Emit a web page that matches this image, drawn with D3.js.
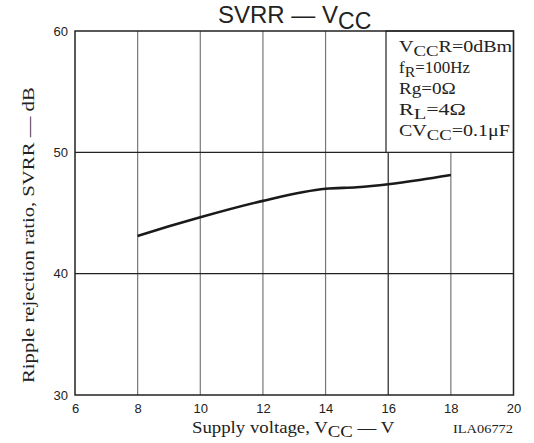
<!DOCTYPE html>
<html><head><meta charset="utf-8">
<script src="https://cdn.jsdelivr.net/npm/d3@7/dist/d3.min.js"></script>
<style>body{margin:0;background:#fff}svg{display:block}</style>
</head><body>
<svg id="c" width="534" height="443"></svg>
<script>
const voltage = [8, 9, 10, 12, 14, 15, 16, 17, 18];
const svrr = [43.1, 43.9, 44.65, 46.0, 47.0, 47.12, 47.37, 47.72, 48.13];
const xTicks = [6, 8, 10, 12, 14, 16, 18, 20];
const yTicks = [30, 40, 50, 60];
const legendLines = [
  [["V",""],["CC","sub"],["R=0dBm",""]],
  [["f",""],["R","sub"],["=100Hz",""]],
  [["Rg=0Ω",""]],
  [["R",""],["L","sub"],["=4Ω",""]],
  [["CV",""],["CC","sub"],["=0.1μF",""]]
];
const legendWidths = [114, 71, 57, 67, 111];

const svg = d3.select("#c");
const x = d3.scaleLinear().domain([6, 20]).range([75, 513.5]);
const y = d3.scaleLinear().domain([30, 60]).range([395, 31]);
const sans = "'Liberation Sans', Arial, sans-serif";
const serif = "'Liberation Serif', 'Times New Roman', serif";

// stretch a text horizontally to a target width, anchored at (x0, y0)
function stretch(t, x0, y0, w, rot) {
  const bw = t.node().getBBox().width;
  const k = w / bw;
  t.attr("transform", `translate(${x0},${y0})${rot ? " rotate(-90)" : ""} scale(${k},1)`);
}

// vertical grid
svg.append("g").selectAll("line").data(xTicks.slice(1, -1)).join("line")
  .attr("x1", d => x(d)).attr("x2", d => x(d)).attr("y1", y(60)).attr("y2", y(30))
  .attr("stroke", d => d === 16 ? "#222" : "#777").attr("stroke-width", 1.2);
// horizontal grid
svg.append("g").selectAll("line").data(yTicks.slice(1, -1)).join("line")
  .attr("x1", x(6)).attr("x2", x(20)).attr("y1", d => y(d)).attr("y2", d => y(d))
  .attr("stroke", "#222").attr("stroke-width", 1.2);

// legend box
const lg = svg.append("g");
lg.append("rect").attr("x", 386).attr("y", y(60)).attr("width", x(20) - 386).attr("height", y(50) - y(60))
  .attr("fill", "#fff").attr("stroke", "#222").attr("stroke-width", 1.2);
legendLines.forEach((parts, i) => {
  const t = lg.append("text").attr("x", 0).attr("y", 0)
    .attr("font-family", serif).attr("font-size", 16).attr("fill", "#222");
  let off = 0;
  parts.forEach(([s, k]) => {
    const ts = t.append("tspan").text(s);
    if (k === "sub") { ts.attr("font-size", 15).attr("dy", 4 - off); off = 4; }
    else { ts.attr("dy", -off); off = 0; }
  });
  stretch(t, 399, 52 + i * 21, legendWidths[i]);
});

// frame
svg.append("rect").attr("x", x(6)).attr("y", y(60)).attr("width", x(20) - x(6)).attr("height", y(30) - y(60))
  .attr("fill", "none").attr("stroke", "#222").attr("stroke-width", 1.5);

// curve
const line = d3.line().x((d, i) => x(voltage[i])).y(d => y(d)).curve(d3.curveMonotoneX);
svg.append("path").attr("d", line(svrr)).attr("fill", "none").attr("stroke", "#1a1a1a").attr("stroke-width", 2.6);

// axes (tick labels only)
const xAxis = d3.axisBottom(x).tickValues(xTicks).tickSize(0).tickPadding(9);
const gx = svg.append("g").attr("transform", `translate(0,${y(30)})`).call(xAxis);
gx.select(".domain").remove();
gx.selectAll("text").attr("font-family", sans).attr("font-size", 13).attr("fill", "#222");

const yAxis = d3.axisLeft(y).tickValues(yTicks).tickSize(0).tickPadding(7);
const gy = svg.append("g").attr("transform", `translate(${x(6)},0)`).call(yAxis);
gy.select(".domain").remove();
gy.selectAll("text").attr("font-family", sans).attr("font-size", 13).attr("fill", "#222");

// title
const title = svg.append("text").attr("x", 218).attr("y", 23).attr("font-family", sans).attr("font-size", 24).attr("fill", "#222");
title.append("tspan").text("SVRR — V");
title.append("tspan").text("CC").attr("dy", 6).attr("font-size", 23);

// x label
const xl = svg.append("text").attr("font-family", serif).attr("font-size", 16).attr("fill", "#222");
xl.append("tspan").text("Supply voltage, V");
xl.append("tspan").text("CC").attr("dy", 4).attr("font-size", 16);
xl.append("tspan").text(" — V").attr("dy", -4);
stretch(xl, 192, 433, 203);

const ila = svg.append("text").attr("font-family", serif)
  .attr("font-size", 12).attr("fill", "#222").text("ILA06772");
stretch(ila, 453, 433, 60);

// y label
const yl = svg.append("text").attr("font-family", serif).attr("font-size", 16).attr("fill", "#222")
  .text("Ripple rejection ratio, SVRR — dB");
stretch(yl, 34, 383, 296, true);
</script>
</body></html>
